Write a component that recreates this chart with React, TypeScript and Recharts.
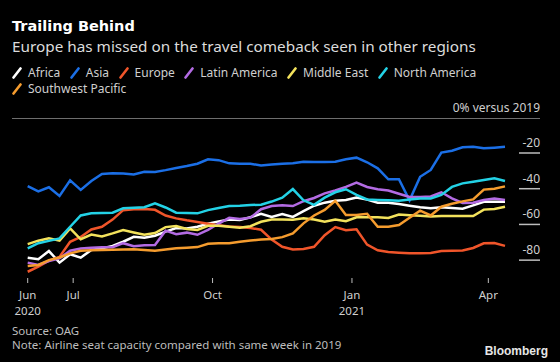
import React from "react";
import { LineChart, Line, XAxis, YAxis } from "recharts";

// week index from 2020-06-01 (day offsets, weekly)
const days: number[] = Array.from({ length: 46 }, (_, i) => i * 7);

const africa = [-78.6, -79.5, -74.9, -81.4, -76.7, -78.6, -74.3, -73.4, -72, -69.7, -66.9, -67.5, -66.3, -64, -62, -62.3, -61.3, -59.6, -58.3, -57.3, -57.5, -56, -54, -55.8, -54.2, -55.8, -52.6, -49.5, -47.8, -46.8, -46.3, -45, -46.1, -47.8, -47.8, -48.5, -49.5, -50.4, -51, -50.4, -50.8, -51.2, -49.3, -47.3, -47.3, -47.3];
const asia = [-38.5, -41.5, -39.2, -44, -35.3, -40.7, -35.7, -31.8, -31.4, -31.5, -32, -30.5, -30.6, -29.6, -28.4, -27.3, -26, -23.5, -24, -25.8, -26, -26, -27, -26.5, -26, -25.8, -24.9, -25, -25, -24.9, -23.5, -22.6, -25.2, -28.6, -34.7, -34.7, -46.5, -33.3, -29.5, -19.8, -18.7, -16.8, -16.5, -17.4, -17, -16.5];
const europe = [-86.5, -83.7, -80.3, -78.2, -69.7, -67, -62.8, -61.3, -57.3, -52, -51.5, -51.3, -51.8, -55, -56.6, -57.7, -58.6, -59.6, -60.5, -61.2, -61.5, -62, -63, -68.5, -72.5, -74, -73.8, -72.5, -66, -61.5, -63.3, -62.7, -71.3, -74.5, -75.5, -75.8, -76.2, -76.1, -76, -74.9, -74.8, -74.6, -73.2, -70.6, -70.4, -72];
const latinAmerica = [-81.4, -82.7, -80.5, -79, -74.7, -73.5, -73, -72.8, -72.8, -70.5, -72.2, -71.7, -71.5, -63.5, -65.5, -64.6, -65.8, -63, -59.5, -56.3, -57, -56.2, -51.5, -49.7, -49.2, -49.7, -47, -45.2, -42.6, -41, -39, -36.6, -39, -40.3, -41, -42.8, -44.6, -44.6, -44.3, -42, -45.4, -48, -47.8, -46.3, -45.5, -46.3];
const middleEast = [-71, -69.1, -67.8, -69.1, -62.2, -68.3, -65.7, -66.7, -65, -63.1, -64.5, -65.8, -64.8, -61.5, -60.9, -62.5, -63.1, -60.8, -60.8, -61.3, -61.8, -61, -58.5, -57.2, -57.2, -57.4, -56.6, -57.3, -58.5, -57.2, -58.2, -56, -56, -56, -56.4, -54.5, -54.8, -55.2, -55.5, -55.3, -55.3, -55.3, -55.3, -51.7, -51.3, -50.1];
const northAmerica = [-73.4, -70.5, -69.2, -67.8, -61.3, -55, -53.8, -53.6, -53.4, -51, -50.7, -50.4, -48.2, -50.5, -53.4, -53.6, -53.8, -52, -50.8, -49.7, -49.5, -49.1, -49, -47.2, -45, -40.2, -46.5, -49, -45, -42, -40.3, -43.5, -46, -46.3, -46.5, -46.8, -46, -45.5, -45.5, -43.5, -39, -37, -36.1, -35.1, -34.2, -35.7];
const southwestPacific = [-83.3, -82.7, -80, -78.5, -76.2, -74.7, -74.5, -74.3, -74.2, -74, -73.9, -74.3, -74.8, -74, -73.4, -73, -72.7, -70.8, -70.6, -70.6, -69.7, -69, -68.5, -68.2, -67.1, -65, -59.4, -55, -51.9, -46.8, -54.7, -54.7, -54, -61.3, -61.3, -60.3, -56.3, -52.3, -55, -50.1, -48.4, -47.1, -46, -40.5, -40, -38.7];

const seriesNames = ["Africa", "Asia", "Europe", "Latin America", "Middle East", "North America", "Southwest Pacific"];
const seriesKeys = ["africa", "asia", "europe", "latinAmerica", "middleEast", "northAmerica", "southwestPacific"];
const seriesColors = ["#ffffff", "#1b6fe6", "#f0552a", "#b36be3", "#f3e25c", "#23d2e6", "#f59c2e"];
const seriesValues = [africa, asia, europe, latinAmerica, middleEast, northAmerica, southwestPacific];

const xTicks = [0, 30, 122, 214, 304];
const xTickLabels: Record<number, [string, string]> = {
  0: ["Jun", "2020"],
  30: ["Jul", ""],
  122: ["Oct", ""],
  214: ["Jan", "2021"],
  304: ["Apr", ""],
};
const yTicks = [-80, -60, -40, -20];

const data = days.map((d, i) => {
  const row: Record<string, number> = { day: d };
  seriesKeys.forEach((k, j) => {
    row[k] = seriesValues[j][i];
  });
  return row;
});

const FONT = "'Noto Sans', 'DejaVu Sans', sans-serif";
const AXIS_RIGHT = 540;

const XTick = (props: any) => {
  const { x, y, payload } = props;
  const lab = xTickLabels[payload.value] || ["", ""];
  return (
    <g>
      <line x1={x} x2={x} y1={y} y2={y + 5} stroke="#bdbdbd" strokeWidth={1} />
      <text x={x} y={y + 21} textAnchor="middle" fill="#cfcfcf" fontSize={11.5} fontFamily={FONT}>
        {lab[0]}
      </text>
      {lab[1] ? (
        <text x={x} y={y + 37} textAnchor="middle" fill="#cfcfcf" fontSize={11.5} fontFamily={FONT}>
          {lab[1]}
        </text>
      ) : null}
    </g>
  );
};

const YTick = (props: any) => {
  const { y, payload } = props;
  return (
    <g>
      <text x={AXIS_RIGHT} y={y - 6} textAnchor="end" fill="#cfcfcf" fontSize={12} fontFamily={FONT}>
        {payload.value}
      </text>
      <line x1={AXIS_RIGHT - 21} x2={AXIS_RIGHT} y1={y} y2={y} stroke="#bdbdbd" strokeWidth={1.5} />
    </g>
  );
};

const Swatch = ({ color }: { color: string }) => (
  <svg width={10} height={12} style={{ marginRight: 6, flex: "none" }}>
    <line x1={1.5} y1={10.5} x2={8.5} y2={1.5} stroke={color} strokeWidth={2.6} strokeLinecap="round" />
  </svg>
);

export default function App() {
  return (
    <div
      style={{
        position: "absolute",
        left: 0,
        top: 0,
        width: 560,
        height: 362,
        background: "#000000",
        fontFamily: FONT,
        overflow: "hidden",
      }}
    >
      <div
        style={{
          position: "absolute",
          left: 12,
          top: 16,
          color: "#ffffff",
          fontSize: 14.5,
          fontWeight: 700,
          lineHeight: "20px",
          fontFamily: "'DejaVu Sans', 'Noto Sans', sans-serif",
        }}
      >
        Trailing Behind
      </div>
      <div style={{ position: "absolute", left: 12, top: 35, color: "#dcdcdc", fontSize: 15.3, lineHeight: "22px" }}>
        Europe has missed on the travel comeback seen in other regions
      </div>
      <div
        style={{
          position: "absolute",
          left: 12,
          top: 65,
          width: 500,
          display: "flex",
          flexWrap: "wrap",
          columnGap: 9.5,
          rowGap: 0,
          color: "#cfcfcf",
          fontSize: 12,
          lineHeight: "16px",
        }}
      >
        {seriesNames.map((n, i) => (
          <div key={n} style={{ display: "flex", alignItems: "center", whiteSpace: "nowrap" }}>
            <Swatch color={seriesColors[i]} />
            <span>{n}</span>
          </div>
        ))}
      </div>
      <div style={{ position: "absolute", right: 20, top: 100, color: "#cfcfcf", fontSize: 12, lineHeight: "16px" }}>
        0% versus 2019
      </div>
      <div style={{ position: "absolute", left: 12, top: 118, width: 528, height: 1, background: "#6e6e6e" }} />

      <div style={{ position: "absolute", left: 0, top: 0 }}>
        <LineChart width={560} height={362} data={data} margin={{ top: 128, right: 0, bottom: 44, left: 27.7 }}>
          <XAxis
            dataKey="day"
            type="number"
            domain={[0, 315]}
            ticks={xTicks}
            tick={<XTick />}
            tickLine={false}
            axisLine={false}
            tickSize={0}
            tickMargin={0}
            height={40}
            interval={0}
          />
          <YAxis
            orientation="right"
            type="number"
            domain={[-90, -6]}
            ticks={yTicks}
            tick={<YTick />}
            tickLine={false}
            axisLine={false}
            width={55}
            interval={0}
          />
          {seriesKeys.map((k, i) => (
            <Line
              key={k}
              type="linear"
              dataKey={k}
              stroke={seriesColors[i]}
              strokeWidth={2.5}
              dot={false}
              activeDot={false}
              isAnimationActive={false}
            />
          ))}
        </LineChart>
      </div>

      <div style={{ position: "absolute", left: 12, top: 324, color: "#bdbdbd", fontSize: 11.5, lineHeight: "14px" }}>
        Source: OAG
        <br />
        Note: Airline seat capacity compared with same week in 2019
      </div>
      <div
        style={{
          position: "absolute",
          right: 12,
          top: 343,
          color: "#e6e6e6",
          fontSize: 12,
          fontWeight: 700,
          lineHeight: "16px",
          fontFamily: "'Liberation Sans', Arial, sans-serif",
        }}
      >
        Bloomberg
      </div>
    </div>
  );
}
